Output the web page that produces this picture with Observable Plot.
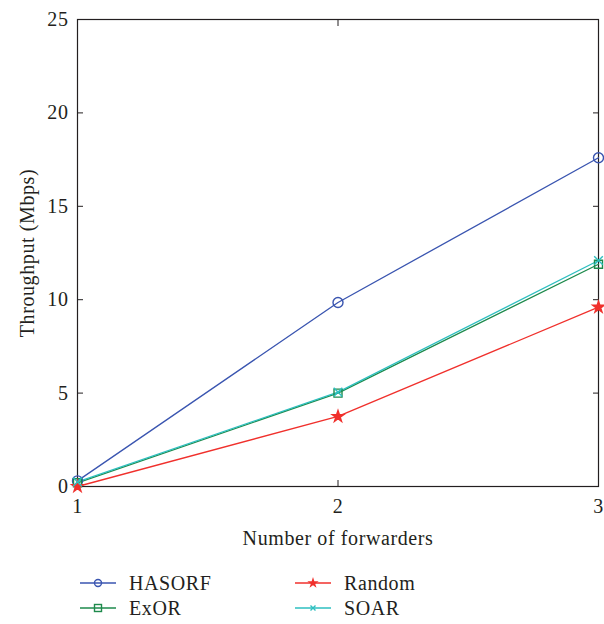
<!DOCTYPE html>
<html>
<head>
<meta charset="utf-8">
<script src="https://cdn.jsdelivr.net/npm/d3@7"></script>
<script src="https://cdn.jsdelivr.net/npm/@observablehq/plot@0.6"></script>
<style>
  body { margin: 0; background: #fff; }
  #wrap { position: relative; width: 604px; font-family: "Liberation Serif", "DejaVu Serif", serif; color: #231f20; }
  .legend { position: relative; height: 69px; font-size: 20px; letter-spacing: 0.6px; }
  .item { position: absolute; display: flex; align-items: center; height: 24px; }
  .item svg { margin-right: 13px; }
</style>
</head>
<body>
<div id="wrap"></div>
<script>
// Throughput versus number of forwarders for each routing scheme
const forwarders = [1, 2, 3];
const hasorf = [0.3, 9.85, 17.6];
const exor   = [0.2, 5.0, 11.9];
const random = [0.0, 3.75, 9.6];
const soar   = [0.25, 5.05, 12.1];
const yTicks = [0, 5, 10, 15, 20, 25];

const series = [
  {name: "HASORF", values: hasorf, color: "#3a55b0", symbol: "circle", fill: "none", r: 5},
  {name: "ExOR",   values: exor,   color: "#1e8a4c", symbol: "square", fill: "none", r: 4.5},
  {name: "Random", values: random, color: "#f0302c", symbol: "star",   fill: "#f0302c", r: 3.6},
  {name: "SOAR",   values: soar,   color: "#2ebfc0", symbol: "times",  fill: "none", r: 4}
];

const rows = series.flatMap(s => forwarders.map((f, i) => ({series: s.name, x: f, y: s.values[i]})));

const marks = [
  Plot.frame({stroke: "#231f20", strokeWidth: 1.2}),
  Plot.axisY(yTicks, {anchor: "left", tickSize: 0, tickPadding: 9, label: "Throughput (Mbps)", labelAnchor: "center", labelArrow: "none", labelOffset: 58}),
  Plot.axisY(yTicks, {anchor: "left", tickSize: -6, tickFormat: () => "", label: null}),
  Plot.axisY(yTicks, {anchor: "right", tickSize: -6, tickFormat: () => "", label: null}),
  Plot.axisX(forwarders, {anchor: "bottom", tickSize: 0, tickPadding: 12, tickFormat: d3.format("d"), label: "Number of forwarders", labelAnchor: "center", labelArrow: "none", labelOffset: 58}),
  Plot.axisX(forwarders, {anchor: "bottom", tickSize: -6, tickFormat: () => "", label: null}),
  Plot.axisX(forwarders, {anchor: "top", tickSize: -6, tickFormat: () => "", label: null})
];

for (const s of series) {
  const d = rows.filter(r => r.series === s.name);
  marks.push(Plot.line(d, {x: "x", y: "y", stroke: s.color, strokeWidth: 1.3}));
}
for (const s of series) {
  const d = rows.filter(r => r.series === s.name);
  marks.push(Plot.dot(d, {x: "x", y: "y", symbol: () => s.symbol, stroke: s.color, fill: s.fill, r: s.r, strokeWidth: 1.4}));
}

const chart = Plot.plot({
  width: 604,
  height: 558,
  marginLeft: 77,
  marginRight: 6,
  marginTop: 19,
  marginBottom: 72,
  style: {fontFamily: "Liberation Serif, DejaVu Serif, serif", fontSize: "20px", letterSpacing: "0.6px", color: "#231f20", background: "#fff"},
  x: {domain: [1, 3]},
  y: {domain: [0, 25]},
  symbol: {domain: ["circle", "square", "star", "times"], range: ["circle", "square", "star", "times"]},
  marks
});

const wrap = document.getElementById("wrap");
wrap.appendChild(chart);

// Legend: two columns, two rows, line-and-marker swatches
const legend = document.createElement("div");
legend.className = "legend";
const positions = {HASORF: [80, 25], Random: [295, 25], ExOR: [80, 50], SOAR: [295, 50]};
const symPaths = {
  circle: '<circle cx="18" cy="12" r="3.5" fill="none" stroke="C" stroke-width="1.4"/>',
  square: '<rect x="14.5" y="8.5" width="7" height="7" fill="none" stroke="C" stroke-width="1.4"/>',
  star: '<path transform="translate(18,12)" d="' + d3.symbol(d3.symbolStar, 40)() + '" fill="C"/>',
  times: '<path transform="translate(18,12)" d="M-2.5,-2.5L2.5,2.5M-2.5,2.5L2.5,-2.5" stroke="C" stroke-width="1.4"/>'
};
for (const s of series) {
  const [left, top] = positions[s.name];
  const item = document.createElement("div");
  item.className = "item";
  item.style.left = left + "px";
  item.style.top = (top - 12) + "px";
  item.innerHTML = '<svg width="36" height="24"><line x1="0" y1="12" x2="36" y2="12" stroke="' + s.color + '" stroke-width="1.5"/>' +
    symPaths[s.symbol].replace(/C/g, s.color) + '</svg><span>' + s.name + '</span>';
  legend.appendChild(item);
}
wrap.appendChild(legend);
</script>
</body>
</html>
